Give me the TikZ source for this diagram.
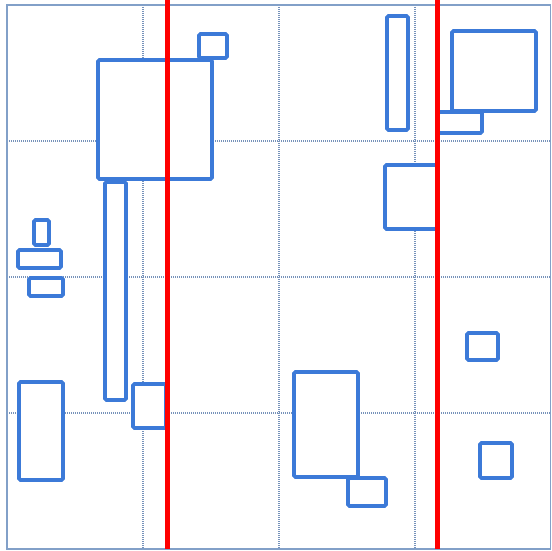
\documentclass[tikz,border=0pt]{standalone}
\usepackage{xcolor}
\usepackage{tikz}

\definecolor{boxblue}{RGB}{60,122,216}
\definecolor{gridgray}{RGB}{118,146,186}
\definecolor{framegray}{RGB}{130,160,200}

\begin{document}
\begin{tikzpicture}[
  x=1pt, y=-1pt,
  blk/.style={draw=boxblue, line width=3.8pt, fill=white, rounded corners=1.5pt},
  gridln/.style={draw=gridgray, line width=1.2pt, dash pattern=on 1pt off 1pt},
  cut/.style={draw=red, line width=5pt}
]
\useasboundingbox (0,0) rectangle (551,551);

% ── Frame and dotted grid ──
\foreach \p in {143,279,415} {
  \draw[gridln] (\p,5) -- (\p,549);
  \draw[gridln] (7,\p-2) -- (551,\p-2);
}
\draw[framegray, line width=1.5pt] (7,5) rectangle (550.5,549);

% ── Left half boxes ──
\draw[blk] (98,60)   rectangle (212,179);
\draw[blk] (199,34)  rectangle (227,58);
\draw[blk] (105,182) rectangle (126,400);
\draw[blk] (34,220)  rectangle (49,245);
\draw[blk] (18,250)  rectangle (61,268);
\draw[blk] (29,278)  rectangle (63,296);
\draw[blk] (19,382)  rectangle (63,480);
\draw[blk] (133,384) rectangle (166,428);

% ── Right half boxes ──
\draw[blk] (387,16)  rectangle (408,130);
\draw[blk] (452,31)  rectangle (536,111);
\draw[blk] (438,112) rectangle (482,133);
\draw[blk] (385,165) rectangle (437,229);
\draw[blk] (294,372) rectangle (358,477);
\draw[blk] (348,478) rectangle (386,506);
\draw[blk] (467,333) rectangle (498,360);
\draw[blk] (480,443) rectangle (512,478);

% ── Red split lines ──
\draw[cut] (167,0) -- (167,549);
\draw[cut] (437,0) -- (437,549);

\end{tikzpicture}
\end{document}
